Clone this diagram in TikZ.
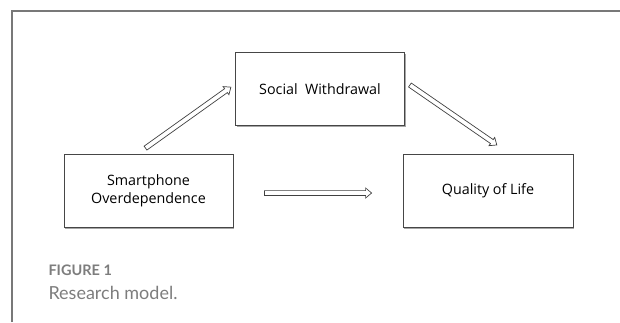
\documentclass[tikz,border=0pt]{standalone}
\usepackage{fontspec}
\setmainfont{Open Sans}
\newfontfamily\capfont{Lato}
\usetikzlibrary{positioning,calc,shadows}
\definecolor{framegray}{RGB}{120,120,120}
\definecolor{capgray}{RGB}{125,125,125}
\definecolor{boxline}{RGB}{70,70,70}

% hollow block arrow from #1 to #2
\newcommand{\hollowarrow}[2]{%
  \draw[arrowline] let \p1=(#1), \p2=(#2), \n1={atan2(\y2-\y1,\x2-\x1)}, \n2={veclen(\x2-\x1,\y2-\y1)} in
    [shift={(\p1)}, rotate=\n1] (0pt,-2.4pt) -- (\n2-6pt,-2.4pt) -- (\n2-6pt,-5pt) -- (\n2,0pt)
    -- (\n2-6pt,5pt) -- (\n2-6pt,2.4pt) -- (0pt,2.4pt) -- cycle;}

\begin{document}
\begin{tikzpicture}[x=1pt, y=-1pt,
    varbox/.style={draw=boxline, line width=0.8pt, fill=white, align=center,
        minimum width=169pt, minimum height=73pt, font=\fontsize{14.3}{18}\selectfont,
        drop shadow={shadow xshift=1pt, shadow yshift=-1.5pt, fill=black, opacity=0.35}},
    arrowline/.style={draw=black!75, line width=0.7pt, line join=miter}]
    \useasboundingbox (0,0) rectangle (620,322);

    % Frame
    \draw[framegray, line width=1.3pt] (12,322) -- (12,11) -- (620,11);

    % Variables
    \node[varbox] (social) at (320,89) {Social\ \ Withdrawal};
    \node[varbox] (smart) at (148.5,191) {Smartphone\\Overdependence};
    \node[varbox, minimum width=170pt] (quality) at (488,191) {Quality of Life};

    % Paths
    \coordinate (a1) at ([shift={(-3pt,6pt)}]smart.north);
    \coordinate (a2) at ([shift={(-4pt,2pt)}]social.west);
    \coordinate (b1) at ([shift={(5pt,4pt)}]social.east);
    \coordinate (b2) at ([shift={(9pt,9pt)}]quality.north);
    \coordinate (c1) at ([shift={(31pt,-2pt)}]smart.east);
    \coordinate (c2) at ([shift={(-31pt,-2pt)}]quality.west);
    \hollowarrow{a1}{a2}
    \hollowarrow{b1}{b2}
    \hollowarrow{c1}{c2}

    % Caption
    \node[anchor=west, text=capgray, font=\capfont\bfseries\fontsize{14.5}{16}\selectfont] (fig) at (45,270) {FIGURE 1};
    \node[anchor=west, text=capgray, font=\capfont\fontsize{18}{20}\selectfont] (cap) at (45,293) {Research model.};
\end{tikzpicture}
\end{document}
